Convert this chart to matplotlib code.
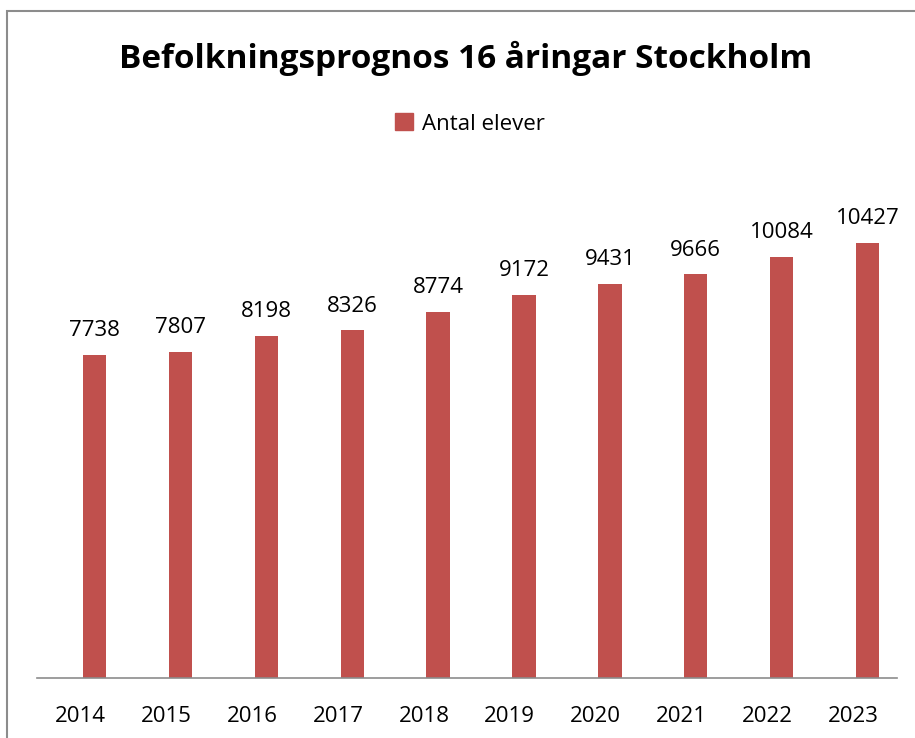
import matplotlib
matplotlib.use('Agg')
import matplotlib.pyplot as plt
from matplotlib.patches import Rectangle, Patch

years = ['2014', '2015', '2016', '2017', '2018', '2019', '2020', '2021', '2022', '2023']
elever = [7738, 7807, 8198, 8326, 8774, 9172, 9431, 9666, 10084, 10427]

plt.rcParams['font.family'] = ['Open Sans', 'DejaVu Sans']

W, H = 915, 738
fig = plt.figure(figsize=(W / 100, H / 100), dpi=100)

# ram runt diagrammet (syns bara vänster och upptill)
fig.patches.append(Rectangle((7 / W, -0.05), 1.2, 1 - 11 / H + 0.05, transform=fig.transFigure,
                             fill=False, edgecolor='#8c8c8c', linewidth=1.5))

ax = fig.add_axes([37 / W, 1 - 678 / H, 860 / W, (678 - 177) / H])
bar_color = '#c0504d'
x = list(range(len(years)))
bars = ax.bar(x, elever, width=0.27, color=bar_color)
ax.set_xlim(-0.669, 9.342)
ax.set_ylim(0, 12000)

for b, v in zip(bars, elever):
    ax.annotate(str(v), (b.get_x() + b.get_width() / 2, v), xytext=(0, 10),
                textcoords='offset points', ha='center', va='bottom', fontsize=16)

# etiketterna sitter lite till vänster om staplarna i originalet
ax.set_xticks([i - 0.165 for i in x])
ax.set_xticklabels(years, fontsize=16)
ax.tick_params(axis='x', length=0, pad=20)
ax.set_yticks([])
for s in ['top', 'right', 'left']:
    ax.spines[s].set_visible(False)
ax.spines['bottom'].set_color('#8c8c8c')
ax.spines['bottom'].set_linewidth(1.2)

fig.text(466 / W, 1 - 58 / H, 'Befolkningsprognos 16 åringar Stockholm', ha='center', va='center',
         fontsize=24, fontweight='bold')

fig.legend(handles=[Patch(color=bar_color, label='Antal elever')], loc='center',
           bbox_to_anchor=(470 / W, 1 - 124 / H), frameon=False, fontsize=16,
           handlelength=0.8, handleheight=0.8, handletextpad=0.4)

fig.savefig('out.png', dpi=100)
